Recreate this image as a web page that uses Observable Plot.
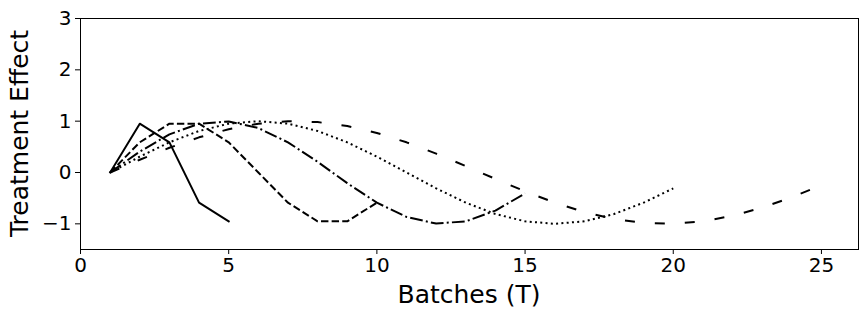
<!DOCTYPE html>
<html>
<head>
<meta charset="utf-8">
<script src="https://cdn.jsdelivr.net/npm/d3@7"></script>
<script src="https://cdn.jsdelivr.net/npm/@observablehq/plot@0.6"></script>
<style>
  html, body { margin: 0; padding: 0; background: #fff; }
  #chart svg { display: block; }
</style>
</head>
<body>
<div id="chart"></div>
<script>
// Series values (treatment effect per batch)
const seriesT5  = [0, 0.951, 0.588, -0.588, -0.951];
const seriesT10 = [0, 0.588, 0.951, 0.951, 0.588, 0, -0.588, -0.951, -0.951, -0.588];
const seriesT15 = [0, 0.407, 0.743, 0.951, 0.995, 0.866, 0.588, 0.208, -0.208, -0.588, -0.866, -0.995, -0.951, -0.743, -0.407];
const seriesT20 = [0, 0.309, 0.588, 0.809, 0.951, 1.0, 0.951, 0.809, 0.588, 0.309, 0, -0.309, -0.588, -0.809, -0.951, -1.0, -0.951, -0.809, -0.588, -0.309];
const seriesT25 = [0, 0.249, 0.482, 0.685, 0.844, 0.951, 0.998, 0.982, 0.905, 0.771, 0.588, 0.368, 0.125, -0.125, -0.368, -0.588, -0.771, -0.905, -0.982, -0.998, -0.951, -0.844, -0.685, -0.482, -0.249];

const xTicks = [0, 5, 10, 15, 20, 25];
const yTicks = [-1, 0, 1, 2, 3];

const seriesList = [
  {name: "T5",  values: seriesT5,  dash: null},
  {name: "T10", values: seriesT10, dash: "7.4,3.2"},
  {name: "T15", values: seriesT15, dash: "12.8,3.2,2,3.2"},
  {name: "T20", values: seriesT20, dash: "2,3.3"},
  {name: "T25", values: seriesT25, dash: "10,20"}
];

const toRows = (vals) => vals.map((v, i) => ({x: i + 1, y: v}));

const W = 865, H = 318;
const mL = 80, mR = 7, mT = 18, mB = 69;

const marks = [
  Plot.frame({stroke: "#000", strokeWidth: 1}),
  ...seriesList.map(s => Plot.line(toRows(s.values), {
    x: "x", y: "y",
    stroke: "#000",
    strokeWidth: 2,
    strokeDasharray: s.dash || undefined,
    strokeLinecap: s.dash ? "butt" : "square",
    strokeLinejoin: "round"
  }))
];

const chart = Plot.plot({
  width: W,
  height: H,
  marginLeft: mL,
  marginRight: mR,
  marginTop: mT,
  marginBottom: mB,
  style: {fontFamily: "DejaVu Sans", fontSize: "20px", color: "#000", background: "#fff"},
  x: {domain: [0, 26.25], ticks: xTicks, tickSize: 5, tickPadding: 3, label: null, tickFormat: d => String(d)},
  y: {domain: [-1.5, 3], ticks: yTicks, tickSize: 5, tickPadding: 4, label: null, tickFormat: d => d < 0 ? "\u2212" + Math.abs(d) : String(d)},
  marks
});

const svg = d3.select(chart);
svg.selectAll("[aria-label='x-axis tick label'] text, [aria-label='y-axis tick label'] text")
  .attr("fill", "#000");

// Axis titles
svg.append("text")
  .attr("x", (mL + (W - mR)) / 2)
  .attr("y", 303)
  .attr("text-anchor", "middle")
  .attr("font-family", "DejaVu Sans")
  .attr("font-size", 25)
  .attr("fill", "#000")
  .text("Batches (T)");

svg.append("text")
  .attr("transform", `translate(28, ${(mT + (H - mB)) / 2}) rotate(-90)`)
  .attr("text-anchor", "middle")
  .attr("font-family", "DejaVu Sans")
  .attr("font-size", 25)
  .attr("fill", "#000")
  .text("Treatment Effect");

document.getElementById("chart").appendChild(chart);
</script>
</body>
</html>
